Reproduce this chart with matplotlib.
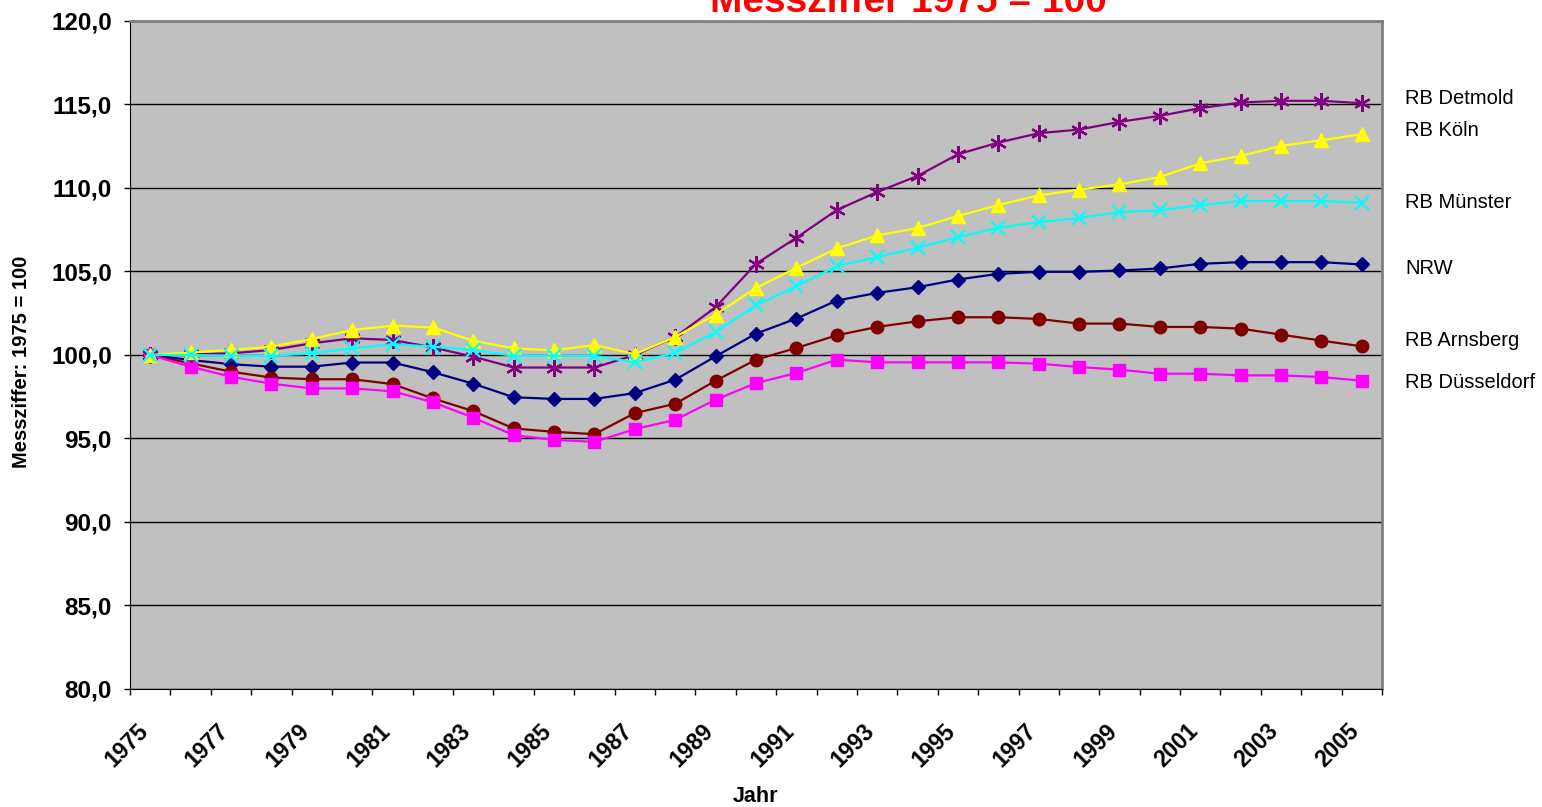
import matplotlib.pyplot as plt
import matplotlib.transforms as mtransforms
import numpy as np

plt.rcParams['font.family'] = ['Liberation Sans', 'DejaVu Sans']

years = list(range(1975, 2006))

nrw = [100.0, 99.7, 99.45, 99.3, 99.3, 99.55, 99.55, 98.97, 98.28, 97.47, 97.37, 97.37, 97.72,
       98.52, 99.92, 101.28, 102.18, 103.26, 103.72, 104.06, 104.52, 104.86, 104.98, 104.98,
       105.06, 105.18, 105.46, 105.56, 105.56, 105.56, 105.42]
arnsberg = [100.0, 99.5, 99.0, 98.65, 98.55, 98.55, 98.26, 97.4, 96.64, 95.6, 95.4, 95.26, 96.52,
            97.08, 98.46, 99.72, 100.42, 101.18, 101.68, 102.02, 102.26, 102.26, 102.16, 101.88,
            101.88, 101.68, 101.68, 101.58, 101.22, 100.86, 100.52]
duesseldorf = [100.0, 99.3, 98.7, 98.28, 98.0, 98.0, 97.83, 97.17, 96.25, 95.2, 94.92, 94.8, 95.56,
               96.12, 97.32, 98.32, 98.92, 99.72, 99.56, 99.56, 99.56, 99.56, 99.48, 99.28,
               99.12, 98.88, 98.88, 98.78, 98.78, 98.68, 98.46]
detmold = [100.0, 100.04, 100.1, 100.3, 100.7, 101.0, 100.9, 100.45, 99.9, 99.25, 99.25, 99.25, 100.0,
           101.08, 102.86, 105.46, 107.02, 108.68, 109.76, 110.72, 112.02, 112.72, 113.28, 113.5,
           113.96, 114.32, 114.78, 115.12, 115.22, 115.22, 115.08]
koeln = [100.0, 100.15, 100.3, 100.5, 100.95, 101.5, 101.75, 101.65, 100.85, 100.4, 100.28, 100.6, 100.05,
         101.08, 102.42, 104.02, 105.22, 106.38, 107.16, 107.6, 108.32, 108.98, 109.56, 109.9,
         110.22, 110.66, 111.48, 111.92, 112.52, 112.86, 113.22]
muenster = [100.0, 100.0, 99.95, 99.95, 100.1, 100.4, 100.65, 100.5, 100.3, 99.95, 99.95, 99.95, 99.56,
            100.12, 101.38, 102.98, 104.12, 105.32, 105.86, 106.42, 107.06, 107.62, 107.96, 108.2,
            108.56, 108.66, 108.98, 109.22, 109.22, 109.22, 109.12]

fig = plt.figure(figsize=(15.42, 8.07), dpi=100)
ax = fig.add_axes([130 / 1542, 1 - 689 / 807, 1252 / 1542, 668 / 807])
ax.set_facecolor('#C0C0C0')

x = np.arange(len(years))
ax.plot(x, nrw, color='#000080', marker='D', markersize=7, lw=1.6)
ax.plot(x, arnsberg, color='#800000', marker='o', markersize=9, lw=1.6)
ax.plot(x, duesseldorf, color='#FF00FF', marker='s', markersize=8, lw=1.6)
ax.plot(x, detmold, color='#800080', marker=(6, 2, 0), markersize=12, mew=1.6, lw=1.6)
ax.plot(x, koeln, color='#FFFF00', marker='^', markersize=10, lw=1.6)
ax.plot(x, muenster, color='#00FFFF', marker='x', markersize=10, mew=1.6, lw=1.6)

ax.set_xlim(-0.5, len(years) - 0.5)
ax.set_ylim(80, 120)
ax.set_yticks(np.arange(80, 121, 5))
ax.set_yticklabels([f'{v:.1f}'.replace('.', ',') for v in np.arange(80, 121, 5)],
                   fontsize=17.5, fontweight='bold')
ax.yaxis.grid(True, color='black', lw=1)
ax.set_axisbelow(True)

# ticks on the category boundaries, labels on every other category centre
ax.set_xticks(np.arange(-0.5, len(years), 1), minor=False)
ax.set_xticklabels([])
ax.set_xticks(x[::2], minor=True)
ax.set_xticklabels([str(y) for y in years[::2]], minor=True, rotation=45, ha='right',
                   rotation_mode='anchor', fontsize=16.5, fontweight='bold')
ax.tick_params(axis='x', which='minor', length=0, pad=12)
ax.tick_params(axis='x', which='major', length=4.5, width=1, direction='out')
ax.tick_params(axis='y', length=4.5, width=1, direction='out', pad=8.5)
offset = mtransforms.ScaledTranslation(-14 / 100, -14 / 100, fig.dpi_scale_trans)
for lab in ax.get_xticklabels(minor=True):
    lab.set_transform(lab.get_transform() + offset)

ax.spines['left'].set_color('black')
ax.spines['bottom'].set_color('black')
ax.spines['top'].set_color('#808080')
ax.spines['right'].set_color('#808080')
ax.spines['top'].set_linewidth(2)
ax.spines['right'].set_linewidth(2)

fig.text(22 / 1542, 1 - 362 / 807, 'Messziffer: 1975 = 100', rotation=90, ha='center', va='center',
         fontsize=14.5, fontweight='bold')
fig.text(755 / 1542, 1 - 797 / 807, 'Jahr', ha='center', va='center', fontsize=15.5, fontweight='bold')

fig.text(908 / 1542, 1 - 12 / 807, 'Messziffer 1975 = 100', ha='center', va='baseline',
         fontsize=28, fontweight='bold', color='red')

labels = ['RB Detmold', 'RB Köln', 'RB Münster', 'NRW', 'RB Arnsberg', 'RB Düsseldorf']
label_y = [99, 131, 202, 268, 341, 383]
for name, yy in zip(labels, label_y):
    fig.text(1405 / 1542, 1 - yy / 807, name, ha='left', va='center', fontsize=14.5)

fig.savefig('out.png', dpi=100)
